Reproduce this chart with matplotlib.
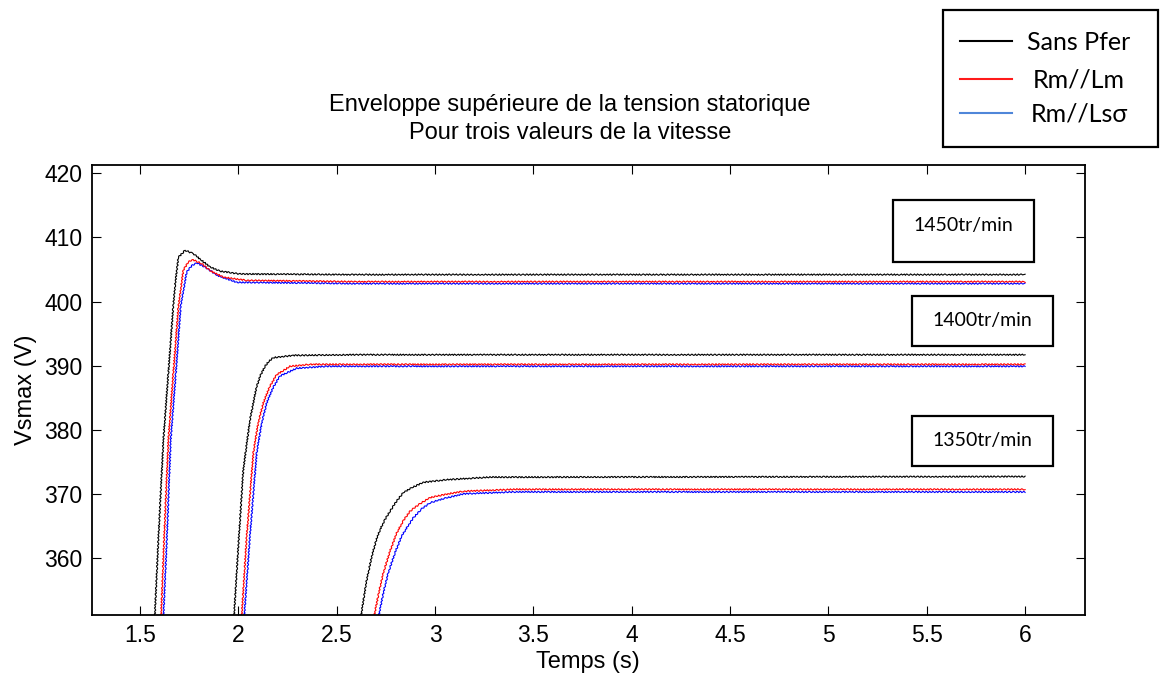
import matplotlib
matplotlib.use("Agg")
import matplotlib.pyplot as plt
from matplotlib.patches import Rectangle
from matplotlib.lines import Line2D

# ---- data: upper envelope of stator voltage (V) vs time (s) ----
# 1450 tr/min
t_1450_sans = [1.566, 1.575, 1.593, 1.619, 1.644, 1.669, 1.678, 1.695, 1.729, 1.771, 1.814, 1.856, 1.907, 2.008, 2.6, 6.0]
v_1450_sans = [345.0, 351.1, 363.0, 378.6, 389.0, 399.4, 402.6, 406.9, 408.0, 407.45, 406.4, 405.4, 404.75, 404.3, 404.2, 404.2]
t_1450_rmlm = [1.598, 1.607, 1.622, 1.644, 1.669, 1.695, 1.720, 1.746, 1.771, 1.814, 1.856, 1.924, 2.042, 2.6, 6.0]
v_1450_rmlm = [345.0, 351.1, 363.0, 378.5, 388.9, 399.3, 404.9, 406.2, 406.5, 405.9, 404.8, 403.8, 403.3, 403.1, 403.1]
t_1450_rmls = [1.609, 1.619, 1.636, 1.656, 1.682, 1.707, 1.737, 1.763, 1.788, 1.830, 1.890, 1.992, 2.6, 6.0]
v_1450_rmls = [345.0, 351.1, 362.9, 378.5, 388.9, 399.4, 404.6, 405.6, 406.0, 405.4, 404.1, 403.0, 402.8, 402.8]

# 1400 tr/min
t_1400_sans = [1.970, 1.978, 1.997, 2.025, 2.059, 2.093, 2.114, 2.135, 2.156, 2.178, 2.279, 2.6, 6.0]
v_1400_sans = [345.0, 351.1, 360.7, 373.8, 381.6, 386.8, 388.6, 389.9, 390.7, 391.25, 391.6, 391.7, 391.7]
t_1400_rmlm = [2.005, 2.017, 2.042, 2.076, 2.100, 2.127, 2.160, 2.195, 2.263, 2.364, 6.0]
v_1400_rmlm = [345.0, 351.1, 363.4, 376.4, 381.0, 384.2, 386.8, 388.6, 389.9, 390.2, 390.2]
t_1400_rmls = [2.018, 2.030, 2.059, 2.093, 2.118, 2.144, 2.178, 2.212, 2.297, 2.45, 6.0]
v_1400_rmls = [345.0, 351.1, 363.6, 376.4, 381.0, 384.2, 386.7, 388.4, 389.6, 389.9, 389.9]

# 1350 tr/min
t_1350_sans = [2.610, 2.624, 2.650, 2.678, 2.700, 2.720, 2.745, 2.771, 2.805, 2.839, 2.885, 2.940, 3.000, 3.059, 3.279, 6.0]
v_1350_sans = [345.0, 351.1, 356.2, 360.25, 362.7, 364.4, 366.0, 367.3, 368.9, 370.2, 371.0, 371.8, 372.0, 372.2, 372.6, 372.7]
t_1350_rmlm = [2.675, 2.691, 2.714, 2.737, 2.770, 2.805, 2.840, 2.873, 2.920, 2.974, 3.050, 3.144, 3.4, 6.0]
v_1350_rmlm = [345.0, 351.1, 354.6, 357.7, 361.0, 363.9, 365.9, 367.3, 368.4, 369.4, 369.9, 370.4, 370.7, 370.7]
t_1350_rmls = [2.698, 2.714, 2.738, 2.762, 2.796, 2.830, 2.860, 2.889, 2.930, 2.974, 3.050, 3.144, 3.4, 6.0]
v_1350_rmls = [345.0, 351.1, 354.7, 357.7, 360.8, 363.4, 364.9, 366.25, 367.6, 368.6, 369.3, 370.0, 370.3, 370.3]

series_names = ["Sans Pfer", "Rm//Lm", "Rm//Lsσ"]
line_colors = ["#000000", "#ff0000", "#0000ff"]
legend_colors = ["#000000", "#ff1a1a", "#4f86d9"]
speed_labels = ["1450tr/min", "1400tr/min", "1350tr/min"]

x_ticks = [1.5, 2, 2.5, 3, 3.5, 4, 4.5, 5, 5.5, 6]
y_ticks = [360, 370, 380, 390, 400, 410, 420]

W, H = 1160, 675
fig = plt.figure(figsize=(W / 100, H / 100), dpi=100)
fig.patch.set_facecolor("white")
ax = fig.add_axes([91.5 / W, 1 - 615 / H, (1084.5 - 91.5) / W, (615 - 165) / H])

curves = [
    (t_1450_sans, v_1450_sans, 0), (t_1450_rmlm, v_1450_rmlm, 1), (t_1450_rmls, v_1450_rmls, 2),
    (t_1400_sans, v_1400_sans, 0), (t_1400_rmlm, v_1400_rmlm, 1), (t_1400_rmls, v_1400_rmls, 2),
    (t_1350_sans, v_1350_sans, 0), (t_1350_rmlm, v_1350_rmlm, 1), (t_1350_rmls, v_1350_rmls, 2),
]
# draw blue first, then red, then black on top
for order in (2, 1, 0):
    for t, v, k in curves:
        if k != order:
            continue
        ln, = ax.plot(t, v, color=line_colors[k], lw=0.8, solid_joinstyle="round")
        ln.set_sketch_params(scale=0.7, length=3.5, randomness=1.5)

ax.set_xlim(1.253, 6.302)
ax.set_ylim(351.1, 421.3)
ax.set_xticks(x_ticks)
ax.set_xticklabels([f"{x:g}" for x in x_ticks])
ax.set_yticks(y_ticks)

font_main = "Liberation Sans"
for lab in ax.get_xticklabels() + ax.get_yticklabels():
    lab.set_fontfamily(font_main)
    lab.set_fontsize(16.5)
ax.tick_params(direction="in", length=6.5, width=0.8, top=True, right=True, pad=6.5, colors="black")
for s in ax.spines.values():
    s.set_linewidth(1.3)

ax.set_xlabel("Temps (s)", fontfamily=font_main, fontsize=17, labelpad=3)
ax.set_ylabel("Vsmax (V)", fontfamily=font_main, fontsize=17, labelpad=5)

fig.text(570 / W, 1 - 119 / H,
         "Enveloppe supérieure de la tension statorique\nPour trois valeurs de la vitesse",
         ha="center", va="center", fontfamily=font_main, fontsize=17, linespacing=1.35)

# speed annotation boxes (pixel positions)
def fig_box(x0, y0, x1, y1, lw=1.6):
    fig.add_artist(Rectangle((x0 / W, 1 - y1 / H), (x1 - x0) / W, (y1 - y0) / H,
                             transform=fig.transFigure, fill=True, facecolor="white",
                             edgecolor="black", lw=lw, zorder=5))

label_font = "Lato"
boxes = [(893, 200, 1034, 262, 226), (912, 296, 1053, 346, 320.5), (912, 416, 1053, 466, 440.5)]
for (x0, y0, x1, y1, ty), txt in zip(boxes, speed_labels):
    fig_box(x0, y0, x1, y1)
    fig.text((x0 + x1) / 2 / W, 1 - ty / H, txt, ha="center", va="center",
             fontfamily=label_font, fontsize=14, zorder=6)

# legend box
fig_box(943, 10, 1158, 147)
leg_y = [41, 79, 113]
for y, name, c in zip(leg_y, series_names, legend_colors):
    fig.add_artist(Line2D([960 / W, 1012 / W], [1 - y / H, 1 - y / H], color=c, lw=1.5,
                          transform=fig.transFigure, zorder=6))
    fig.text(1079 / W, 1 - (y + 1) / H, name, ha="center", va="center",
             fontfamily=[label_font, "DejaVu Sans"], fontsize=18, zorder=6)

fig.savefig("out.png", dpi=100, facecolor="white")
